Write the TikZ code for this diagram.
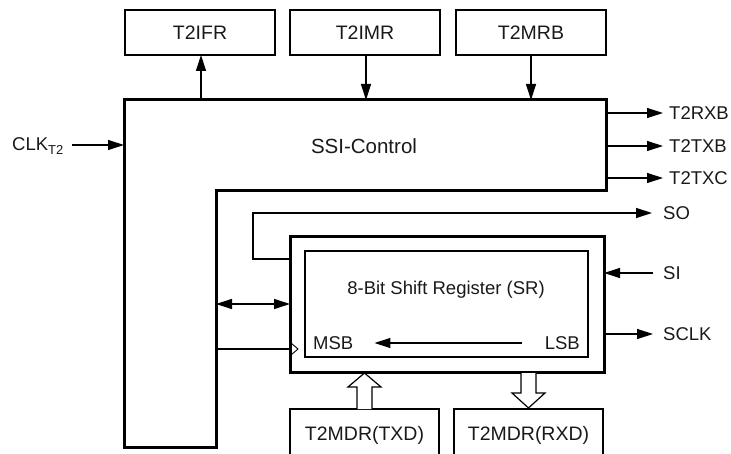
\documentclass[tikz,border=0pt]{standalone}
\usepackage{fontspec}
\setmainfont{Liberation Sans}
\usetikzlibrary{arrows.meta}
\begin{document}
\begin{tikzpicture}[x=1pt,y=-1pt,
  regbox/.style={draw,line width=1.8pt},
  thickbox/.style={draw,line width=3pt},
  sig/.style={line width=1.2pt,-{Triangle[length=16pt,width=10pt]}},
  dsig/.style={line width=1.2pt,{Triangle[length=16pt,width=10pt]}-{Triangle[length=16pt,width=10pt]}},
  thin/.style={line width=1.2pt},
  lbl/.style={font=\fontsize{18.5}{20}\selectfont,text=black!90},
  blbl/.style={font=\fontsize{19.5}{21}\selectfont,text=black!90},
  hollow/.style={draw,line width=1.2pt,fill=white,line join=miter}]
\useasboundingbox (0,0) rectangle (731,454);
% top register boxes
\draw[regbox] (125,10) rectangle (275,55);
\node[blbl] (ifr) at (200,32.5) {T2IFR};
\draw[regbox] (290,10) rectangle (440,55);
\node[blbl] (imr) at (365,32.5) {T2IMR};
\draw[regbox] (456,10) rectangle (606,55);
\node[blbl] (mrb) at (531,32.5) {T2MRB};
\coordinate (ifrB) at (201,55);
\coordinate (imrB) at (366,55);
\coordinate (mrbB) at (531,55);
% SSI-Control L shape
\draw[line width=3pt,line join=miter] (124,100) -- (606,100) -- (606,191) -- (216,191) -- (216,447) -- (124,447) -- cycle;
\node[font=\fontsize{20.5}{22}\selectfont,text=black!90] (ssi) at (364,146) {SSI-Control};
\coordinate (ssiT1) at (201,100);
\coordinate (ssiT2) at (366,100);
\coordinate (ssiT3) at (531,100);
\draw[sig] (ssiT1) -- (ifrB);
\draw[sig] (imrB) -- (ssiT2);
\draw[sig] (mrbB) -- (ssiT3);
% CLK input
\node[lbl,anchor=west,inner sep=0pt] (clk) at (12,146) {CLK\textsubscript{T2}};
\coordinate (ssiL) at (124,145);
\draw[sig] (72,145) coordinate (clkE) -- (ssiL);
% right outputs
\foreach \y/\t/\n in {113/T2RXB/rxb,146/T2TXB/txb,178/T2TXC/txc}{
  \node[lbl,anchor=west,inner sep=0pt] (\n) at (669,\y) {\t};
  \coordinate (\n S) at (606,\y);
  \draw[sig] (\n S) -- ([xshift=-6pt]\n.west);
}
% shift register
\draw[thickbox] (290,237) rectangle (604,372);
\draw[line width=2pt] (305,251) rectangle (588,357);
\node[lbl] (sr) at (446,290) {8-Bit Shift Register (SR)};
\node[lbl,anchor=west,inner sep=0pt] (msb) at (313,343) {MSB};
\node[lbl,anchor=east,inner sep=0pt] (lsb) at (580,343) {LSB};
\draw[sig] ([xshift=-23pt]lsb.west) -- ([xshift=21pt]msb.east);
% SO
\node[lbl,anchor=west,inner sep=0pt] (so) at (663,213) {SO};
\coordinate (srL1) at (290,259);
\draw[sig] (srL1) -- (253,259) -- (253,213) -- ([xshift=-11pt]so.west);
% SI
\node[lbl,anchor=west,inner sep=0pt] (si) at (663,273) {SI};
\coordinate (srR1) at (604,273);
\draw[sig] ([xshift=-10pt]si.west) -- (srR1);
% SCLK
\node[lbl,anchor=west,inner sep=0pt] (sclk) at (663,334) {SCLK};
\coordinate (srR2) at (604,334);
\draw[sig] (srR2) -- ([xshift=-10pt]sclk.west);
% bidirectional bus to SSI
\coordinate (ssiI1) at (216,304);
\coordinate (srL2) at (290,304);
\draw[dsig] (ssiI1) -- (srL2);
% clock line
\coordinate (ssiI2) at (216,349);
\coordinate (srL3) at (290,349);
\draw[thin] (ssiI2) -- (srL3);
\draw[line width=0.9pt,line join=miter] (291,343) -- (298,349) -- (291,355);
% bottom boxes
\draw[regbox] (290,409) rectangle (439,462);
\node[blbl] (txd) at (364.5,435) {T2MDR(TXD)};
\draw[regbox] (454,409) rectangle (603,462);
\node[blbl] (rxd) at (528.5,435) {T2MDR(RXD)};
% hollow arrows
\draw[hollow] (357,409) -- (357,387) -- (348,387) -- (364.5,373) -- (381,387) -- (372,387) -- (372,409);
\draw[hollow] (521,373) -- (521,393) -- (512,393) -- (528.5,408) -- (545,393) -- (536,393) -- (536,373);
\end{tikzpicture}
\end{document}
